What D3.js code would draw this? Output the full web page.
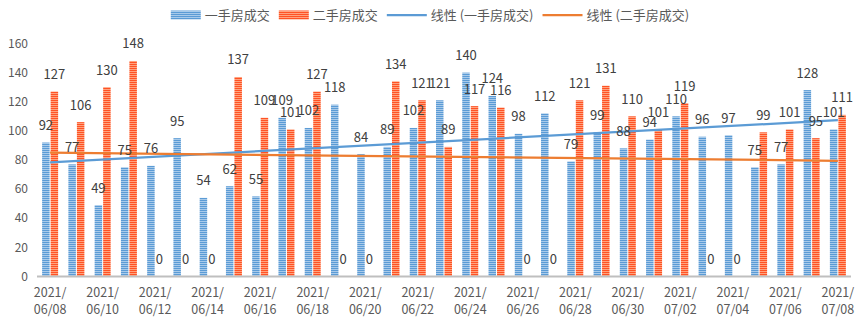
<!DOCTYPE html>
<html><head><meta charset="utf-8">
<script src="https://cdn.jsdelivr.net/npm/d3@7"></script>
<style>body{margin:0;background:#fff;} svg{display:block;}</style>
</head><body>
<svg id="c" width="858" height="323"></svg>
<script>
const dates = ["2021/06/08","2021/06/09","2021/06/10","2021/06/11","2021/06/12","2021/06/13","2021/06/14","2021/06/15","2021/06/16","2021/06/17","2021/06/18","2021/06/19","2021/06/20","2021/06/21","2021/06/22","2021/06/23","2021/06/24","2021/06/25","2021/06/26","2021/06/27","2021/06/28","2021/06/29","2021/06/30","2021/07/01","2021/07/02","2021/07/03","2021/07/04","2021/07/05","2021/07/06","2021/07/07","2021/07/08"];
const newHomes = [92,77,49,75,76,95,54,62,55,109,102,118,84,89,102,121,140,124,98,112,79,99,88,94,110,96,97,75,77,128,101];
const resale = [127,106,130,148,0,0,0,137,109,101,127,0,0,134,121,89,117,116,0,0,121,131,110,101,119,0,0,99,101,95,111];
const seriesNames = ["一手房成交","二手房成交"];
const trendNames = ["线性 (一手房成交)","线性 (二手房成交)"];
const yTicks = [0,20,40,60,80,100,120,140,160];

const svg = d3.select("#c");
const W = 858, H = 323;
const pLeft = 37, pRight = 851, pTop = 43.5, pBottom = 276.5;
const colors = {blue:"#5b9bd5", blueLight:"#a8caea", red:"#ff5224", redLight:"#ffa27e", blueLine:"#5b9bd5", redLine:"#ed7d31"};

const defs = svg.append("defs");
function pat(id, dark, light){
  const p = defs.append("pattern").attr("id", id).attr("patternUnits","userSpaceOnUse").attr("width",4).attr("height",2);
  p.append("rect").attr("width",4).attr("height",2).attr("fill",light);
  p.append("rect").attr("width",4).attr("height",1).attr("fill",dark);
}
pat("pb", colors.blue, colors.blueLight);
pat("pr", colors.red, colors.redLight);

const x = d3.scaleBand().domain(dates).range([pLeft, pRight]).paddingInner(0).paddingOuter(0);
const inner = d3.scaleBand().domain([0,1]).range([-8, 8]).paddingInner(0.12);
const y = d3.scaleLinear().domain([0,160]).range([pBottom, pTop]);

const font = "'Noto Sans CJK SC','Noto Sans',sans-serif";

// y axis labels
svg.append("g").selectAll("text").data(yTicks).join("text")
  .attr("x", 28).attr("y", d => y(d)).attr("dy","0.35em").attr("text-anchor","end")
  .attr("font-family", font).attr("font-size", 12).attr("fill","#595959").text(d => d);

// bars
const series = [newHomes, resale];
const fills = ["url(#pb)","url(#pr)"];
series.forEach((vals, si) => {
  svg.append("g").selectAll("rect").data(vals).join("rect")
    .attr("x", (d,i) => x(dates[i]) + x.bandwidth()/2 + inner(si))
    .attr("width", inner.bandwidth())
    .attr("y", d => y(d)).attr("height", d => pBottom - y(d))
    .attr("fill", fills[si]);
});

// x axis line
svg.append("line").attr("x1", pLeft).attr("x2", pRight).attr("y1", pBottom).attr("y2", pBottom)
  .attr("stroke","#bfbfbf").attr("stroke-width",2);

// x labels every 2nd
const xl = svg.append("g");
dates.forEach((d,i) => {
  if (i % 2) return;
  const cx = x(d) + x.bandwidth()/2;
  const parts = d.split("/");
  const t = xl.append("text").attr("text-anchor","middle").attr("font-family", font)
    .attr("font-size", 12.5).attr("fill","#595959");
  t.append("tspan").attr("x", cx).attr("y", 297).text(parts[0] + "/");
  t.append("tspan").attr("x", cx).attr("y", 314).text(parts[1] + "/" + parts[2]);
});

// trend lines (least squares over category index)
function fit(vals){
  const xs = vals.map((_,i)=>i+1);
  const mx = d3.mean(xs), my = d3.mean(vals);
  let sxy=0, sxx=0;
  xs.forEach((xv,i)=>{ sxy += (xv-mx)*(vals[i]-my); sxx += (xv-mx)*(xv-mx); });
  const b = sxy/sxx, a = my - b*mx;
  return k => a + b*k;
}
const lineColors = [colors.blueLine, colors.redLine];
series.forEach((vals, si) => {
  const f = fit(vals);
  const pts = [1, vals.length].map(k => [x(dates[k-1]) + x.bandwidth()/2, y(f(k))]);
  svg.append("path").attr("d", d3.line()(pts)).attr("stroke", lineColors[si])
    .attr("stroke-width", 2.25).attr("fill","none");
});

// data labels
series.forEach((vals, si) => {
  svg.append("g").selectAll("text").data(vals).join("text")
    .attr("x", (d,i) => x(dates[i]) + x.bandwidth()/2 + inner(si) + inner.bandwidth()/2)
    .attr("y", d => y(d) - 12.5)
    .attr("text-anchor","middle").attr("font-family", font).attr("font-size", 13)
    .attr("fill","#404040").text(d => d);
});

// legend
const lg = svg.append("g");
const items = [
  {name: seriesNames[0], type:"bar", fill:"url(#pb)", w:30},
  {name: seriesNames[1], type:"bar", fill:"url(#pr)", w:30},
  {name: trendNames[0], type:"line", color: colors.blueLine, w:40},
  {name: trendNames[1], type:"line", color: colors.redLine, w:40}
];
let lx = 0;
const ly = 15;
items.forEach((it) => {
  const g = lg.append("g");
  if (it.type === "bar") {
    g.append("rect").attr("x", lx).attr("y", ly-4.5).attr("width", it.w).attr("height", 9).attr("fill", it.fill);
  } else {
    g.append("line").attr("x1", lx).attr("x2", lx+it.w).attr("y1", ly).attr("y2", ly)
      .attr("stroke", it.color).attr("stroke-width", 2.25);
  }
  const t = g.append("text").attr("x", lx + it.w + 4).attr("y", ly).attr("dy","0.35em")
    .attr("font-family", font).attr("font-size", 13).attr("fill","#595959").text(it.name);
  lx += it.w + 4 + t.node().getComputedTextLength() + 9;
});
const totalW = lx - 9;
lg.attr("transform", `translate(${(W - totalW)/2 + 1},0)`);
</script>
</body></html>
